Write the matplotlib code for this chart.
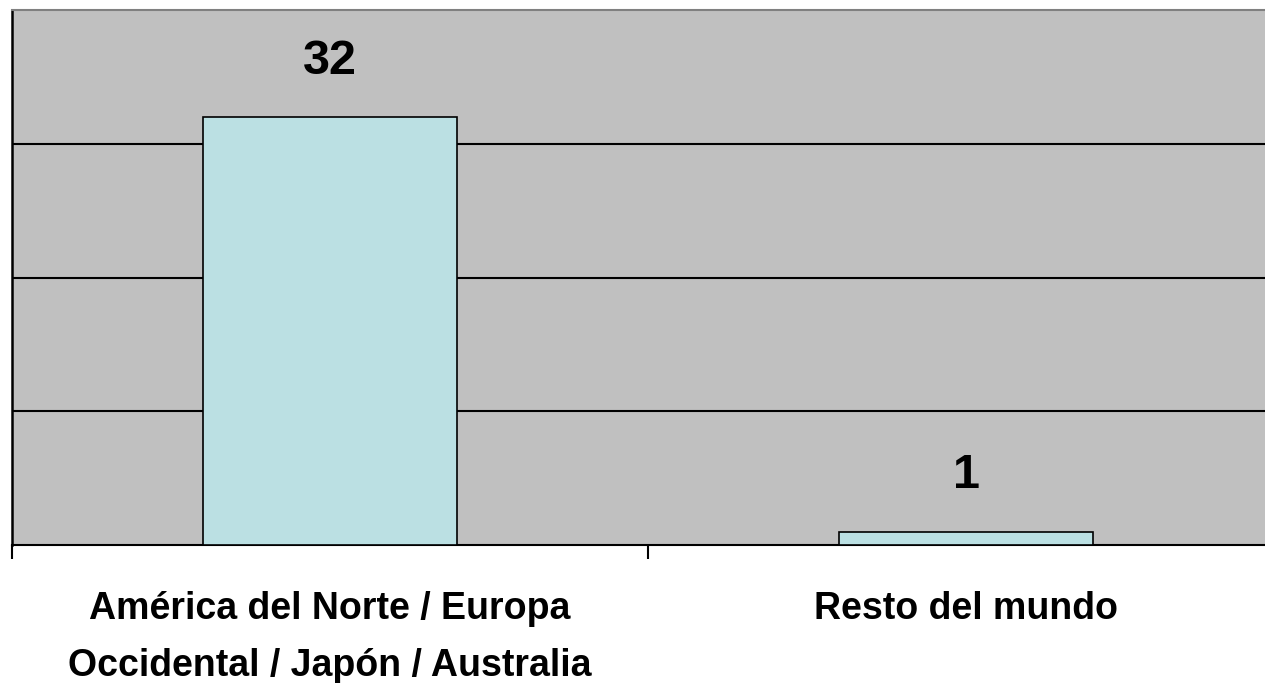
import matplotlib
matplotlib.use("Agg")
import matplotlib.pyplot as plt
import numpy as np

categories = ["América del Norte / Europa\nOccidental / Japón / Australia", "Resto del mundo"]
values = [32, 1]

plt.rcParams['font.family'] = ['Liberation Sans', 'DejaVu Sans']

fig = plt.figure(figsize=(12.65, 6.83), dpi=100)
# plot area runs a little past the right edge of the figure
ax = fig.add_axes([12 / 1265, 1 - 545 / 683, (1284 - 12) / 1265, (545 - 10) / 683])
ax.set_facecolor('#C0C0C0')

x = np.arange(len(categories))
bars = ax.bar(x, values, width=0.40, color='#BBE0E3', edgecolor='black', linewidth=1.2, zorder=3)

ax.set_xlim(-0.5, len(categories) - 0.5)
ax.set_ylim(0, 40)
ax.set_yticks([10, 20, 30])
ax.yaxis.grid(True, color='black', linewidth=1.5, zorder=1)
ax.tick_params(axis='y', left=False, labelleft=False)

# category labels, with boundary ticks between categories
ax.set_xticks(x)
ax.set_xticklabels(categories, fontsize=27, fontweight='bold', linespacing=1.75)
ax.tick_params(axis='x', which='major', length=0, pad=33)
ax.set_xticks(np.arange(-0.5, len(categories)), minor=True)
ax.tick_params(axis='x', which='minor', length=10, width=1.5, color='black')

for b, v in zip(bars, values):
    ax.annotate(str(v), (b.get_x() + b.get_width() / 2, v), xytext=(0, 24),
                textcoords='offset points', ha='center', va='bottom',
                fontsize=35, fontweight='bold')

ax.spines['right'].set_visible(False)
ax.spines['top'].set_color('#808080')
ax.spines['top'].set_linewidth(1.5)
ax.spines['left'].set_linewidth(1.8)
ax.spines['bottom'].set_linewidth(1.5)

fig.savefig("out.png", dpi=100)
